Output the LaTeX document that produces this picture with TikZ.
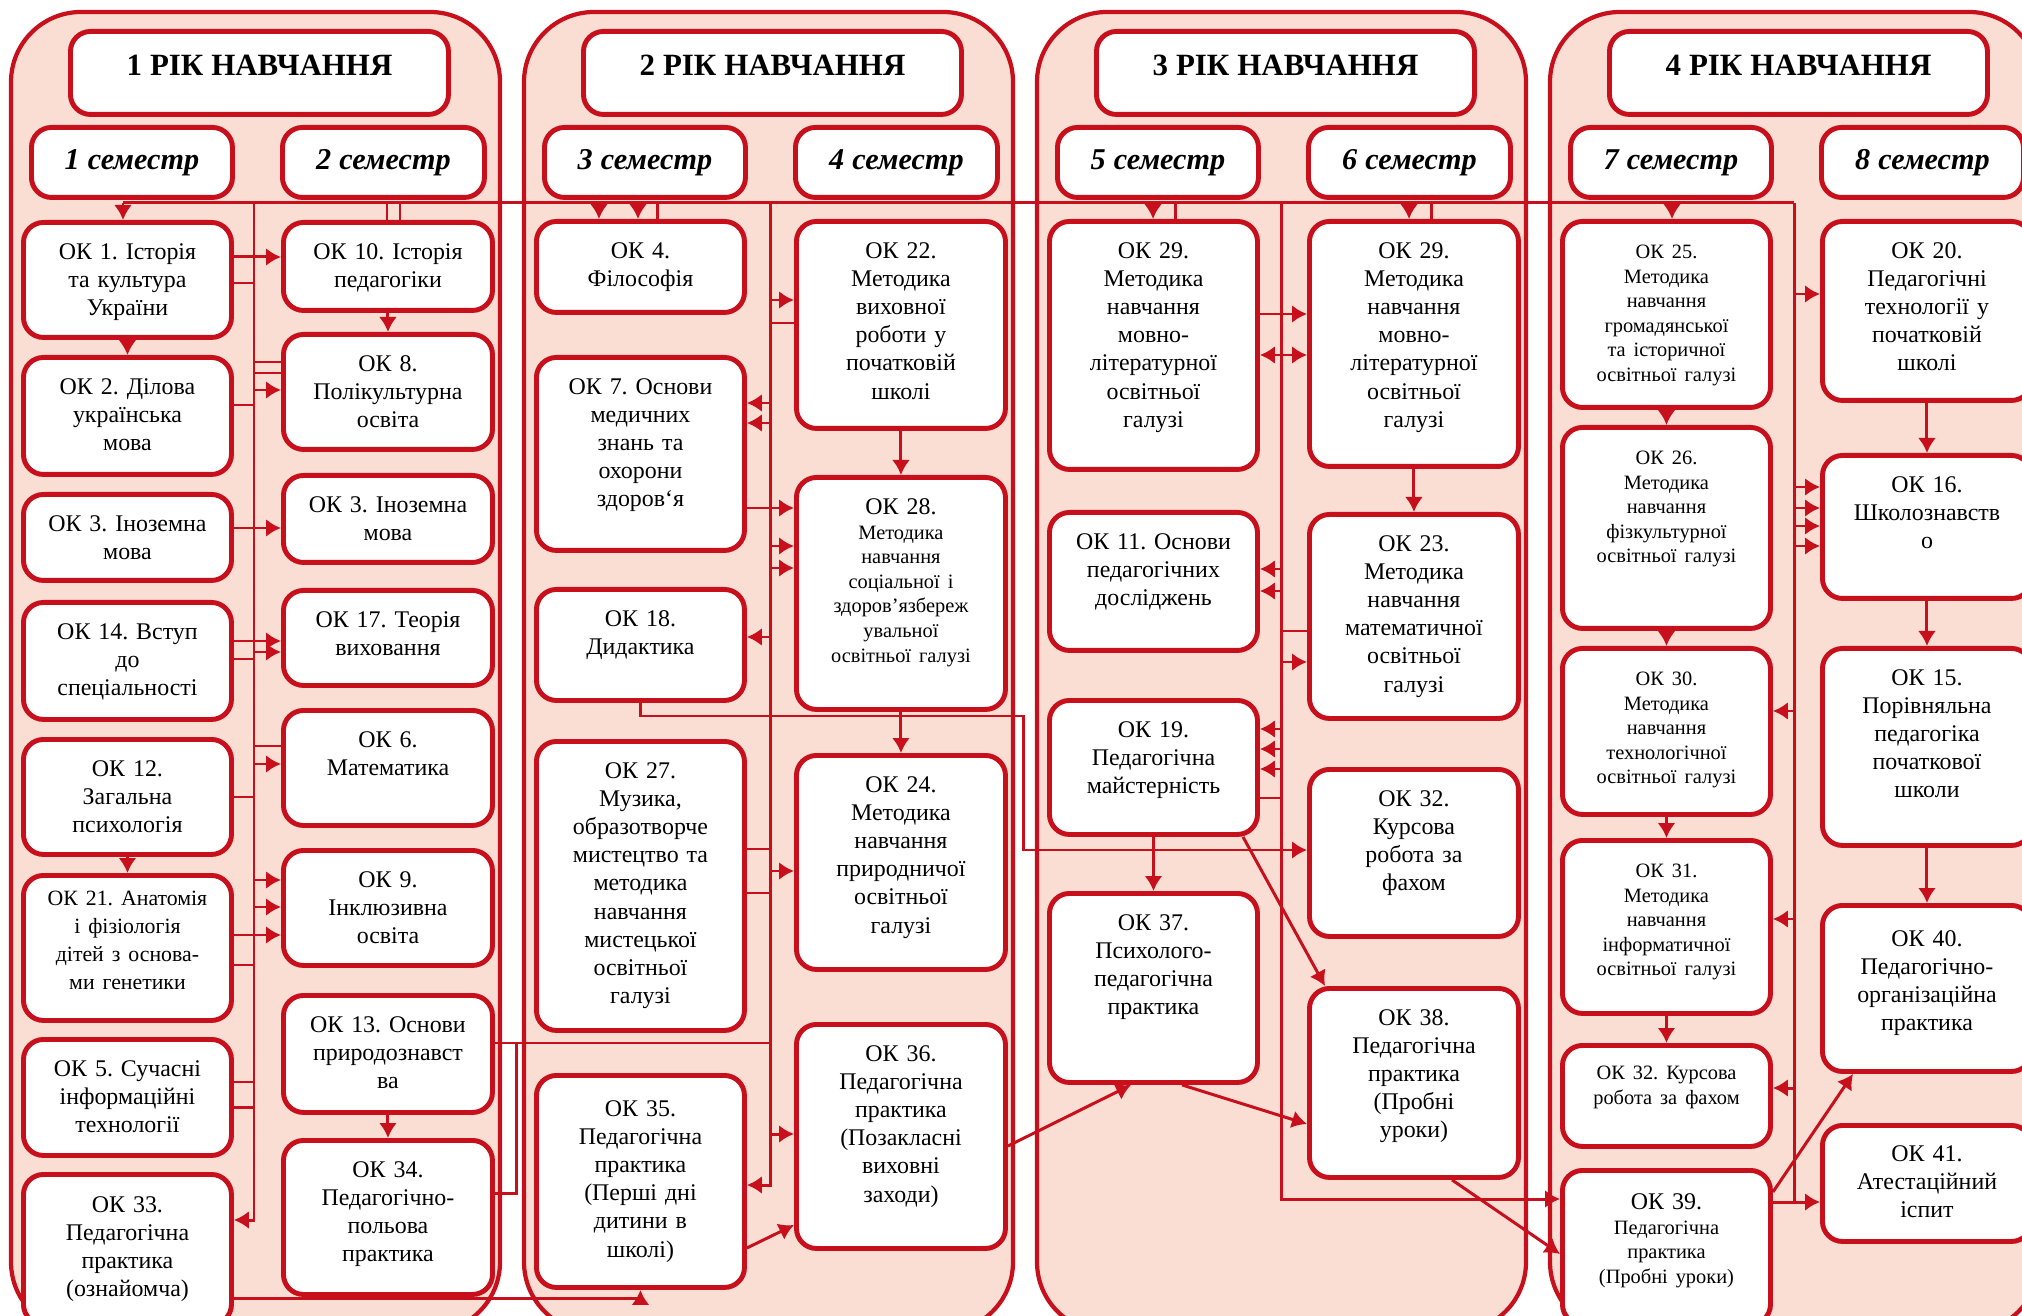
\documentclass[tikz,border=0pt]{standalone}
\usepackage{fontspec}
\setmainfont{Liberation Serif}
\usepackage{tikz}
\usetikzlibrary{arrows.meta}
\tikzset{>={Latex[length=1.5mm,width=1.8mm]}}
\definecolor{schred}{RGB}{200,16,28}
\definecolor{schpink}{RGB}{250,222,212}
\frenchspacing
\newcommand{\fnorm}{\fontsize{6.8}{8}\selectfont}
\newcommand{\fsmall}{\fontsize{5.8}{7}\selectfont}
\newcommand{\fhead}{\fontsize{8.8}{10}\selectfont\bfseries}
\newcommand{\fsem}{\fontsize{8.6}{10}\selectfont\bfseries\itshape}
\tikzstyle{panel} = [draw=schred, fill=schpink, line width=1.2, rounded corners=7mm]
\tikzstyle{course} = [draw=schred, fill=white, line width=1.4, rounded corners=2mm, inner sep=0, align=center, anchor=north west, font=\fnorm]
\tikzstyle{wire} = [schred, line width=0.85]
\tikzstyle{link} = [wire, ->]
\tikzstyle{both} = [wire, <->]
% box: [baseline offset]{name}{left}{top}{right}{bottom}{text}
\newcommand{\course}[7][37]{
	\pgfmathsetlengthmacro{\cwidth}{((#5)-(#3))*0.1mm}
	\pgfmathsetlengthmacro{\cheight}{(#1)*0.1mm}
	\pgfmathsetlengthmacro{\cdepth}{((#6)-(#4)-(#1))*0.1mm}
	\node[course, text width=\cwidth, text height=\cheight, text depth=\cdepth] (#2) at (#3,#4) {#7\par};
}

\begin{document}
\begin{tikzpicture}[x=0.1mm, y=-0.1mm]
		% Frame
		\useasboundingbox (0,0) rectangle (2022,1316);
		\clip (0,0) rectangle (2022,1316);
		\fill[white] (0,0) rectangle (2022,1316);
		
		% Coordinates
		\coordinate (topL) at (123,203);
		\coordinate (topR) at (1794,203);
		\coordinate (bus1) at (254,203);
		\coordinate (bus2) at (770,203);
		\coordinate (bus3) at (1281,203);
		\coordinate (bus4) at (1794,203);
		\coordinate (j13) at (516,1043);
		
		% Years and semesters
		\foreach \p in {0,...,3}
		{
			\pgfmathtruncatemacro{\yr}{\p+1}
			\pgfmathtruncatemacro{\sa}{2*\p+1}
			\pgfmathtruncatemacro{\sb}{2*\p+2}
			\draw[panel] (11+513*\p,12) rectangle (500+513*\p,1332);
			\course[44]{year\yr}{68+513*\p}{29}{446+513*\p}{112}{\fhead \yr{} РІК НАВЧАННЯ}
			\course[42]{sem\sa}{29+513*\p}{125}{230+513*\p}{195}{\fsem \sa{} семестр}
			\course[42]{sem\sb}{280+513*\p}{125}{482+513*\p}{195}{\fsem \sb{} семестр}
		}
		
		% First year
		\course{ok1}{21}{220}{229}{335}{ОК 1. Історія\\та культура\\України}
		\course{ok2}{21}{355}{229}{472}{ОК 2. Ділова\\українська\\мова}
		\course{ok3}{21}{492}{229}{578}{ОК 3. Іноземна\\мова}
		\course{ok14}{21}{600}{229}{717}{ОК 14. Вступ\\до\\спеціальності}
		\course{ok12}{21}{737}{229}{852}{ОК 12.\\Загальна\\психологія}
		\course[30]{ok21}{21}{873}{229}{1018}{\fontsize{6.2}{8}\selectfont ОК 21. Анатомія\\і фізіологія\\дітей з основа-\\ми генетики}
		\course{ok5}{21}{1037}{229}{1153}{ОК 5. Сучасні\\інформаційні\\технології}
		\course[38]{ok33}{21}{1172}{229}{1322}{ОК 33.\\Педагогічна\\практика\\(ознайомча)}
		\course{ok10}{281}{220}{490}{308}{ОК 10. Історія\\педагогіки}
		\course{ok8}{281}{332}{490}{447}{ОК 8.\\Полікультурна\\освіта}
		\course{ok3b}{281}{473}{490}{560}{ОК 3. Іноземна\\мова}
		\course{ok17}{281}{588}{490}{683}{ОК 17. Теорія\\виховання}
		\course{ok6}{281}{708}{490}{823}{ОК 6.\\Математика}
		\course{ok9}{281}{848}{490}{963}{ОК 9.\\Інклюзивна\\освіта}
		\course{ok13}{281}{993}{490}{1110}{ОК 13. Основи\\природознавст\\ва}
		\course{ok34}{281}{1138}{490}{1292}{ОК 34.\\Педагогічно-\\польова\\практика}
		
		% Second year
		\course{ok4}{534}{219}{742}{310}{ОК 4.\\Філософія}
		\course{ok7}{534}{355}{742}{548}{ОК 7. Основи\\медичних\\знань та\\охорони\\здоров`я}
		\course{ok18}{534}{587}{742}{698}{ОК 18.\\Дидактика}
		\course{ok27}{534}{739}{742}{1028}{ОК 27.\\Музика,\\образотворче\\мистецтво та\\методика\\навчання\\мистецької\\освітньої\\галузі}
		\course[41]{ok35}{534}{1073}{742}{1285}{ОК 35.\\Педагогічна\\практика\\(Перші дні\\дитини в\\школі)}
		\course{ok22}{794}{219}{1003}{426}{ОК 22.\\Методика\\виховної\\роботи у\\початковій\\школі}
		\course{ok28}{794}{475}{1003}{707}{ОК 28.\\\fsmall Методика\\навчання\\соціальної і\\здоров’язбереж\\увальної\\освітньої галузі}
		\course{ok24}{794}{753}{1003}{967}{ОК 24.\\Методика\\навчання\\природничої\\освітньої\\галузі}
		\course{ok36}{794}{1022}{1003}{1246}{ОК 36.\\Педагогічна\\практика\\(Позакласні\\виховні\\заходи)}
		
		% Third year
		\course{ok29a}{1047}{219}{1255}{467}{ОК 29.\\Методика\\навчання\\мовно-\\літературної\\освітньої\\галузі}
		\course{ok11}{1047}{510}{1255}{648}{ОК 11. Основи\\педагогічних\\досліджень}
		\course{ok19}{1047}{698}{1255}{832}{ОК 19.\\Педагогічна\\майстерність}
		\course{ok37}{1047}{891}{1255}{1080}{ОК 37.\\Психолого-\\педагогічна\\практика}
		\course{ok29b}{1307}{219}{1516}{464}{ОК 29.\\Методика\\навчання\\мовно-\\літературної\\освітньої\\галузі}
		\course{ok23}{1307}{512}{1516}{716}{ОК 23.\\Методика\\навчання\\математичної\\освітньої\\галузі}
		\course{ok32a}{1307}{767}{1516}{934}{ОК 32.\\Курсова\\робота за\\фахом}
		\course{ok38}{1307}{986}{1516}{1175}{ОК 38.\\Педагогічна\\практика\\(Пробні\\уроки)}
		
		% Fourth year
		\course{ok25}{1560}{219}{1768}{405}{\fsmall ОК 25.\\Методика\\навчання\\громадянської\\та історичної\\освітньої галузі}
		\course{ok26}{1560}{425}{1768}{626}{\fsmall ОК 26.\\Методика\\навчання\\фізкультурної\\освітньої галузі}
		\course{ok30}{1560}{646}{1768}{812}{\fsmall ОК 30.\\Методика\\навчання\\технологічної\\освітньої галузі}
		\course{ok31}{1560}{838}{1768}{1011}{\fsmall ОК 31.\\Методика\\навчання\\інформатичної\\освітньої галузі}
		\course[34]{ok32b}{1560}{1043}{1768}{1144}{\fsmall ОК 32. Курсова\\робота за фахом}
		\course[39]{ok39}{1560}{1168}{1768}{1322}{ОК 39.\\\fsmall Педагогічна\\практика\\(Пробні уроки)}
		\course{ok20}{1820}{219}{2029}{398}{ОК 20.\\Педагогічні\\технології у\\початковій\\школі}
		\course{ok16}{1820}{453}{2029}{596}{ОК 16.\\Школознавств\\о}
		\course{ok15}{1820}{646}{2029}{843}{ОК 15.\\Порівняльна\\педагогіка\\початкової\\школи}
		\course[41]{ok40}{1820}{903}{2029}{1069}{ОК 40.\\Педагогічно-\\організаційна\\практика}
		\course[36]{ok41}{1820}{1123}{2029}{1239}{ОК 41.\\Атестаційний\\іспит}
		
		% Top line and buses
		\draw[wire] (topL) -- (topR);
		\draw[link] (topL) -- (topL |- ok1.north);
		\draw[link] (bus1) |- (ok33.east |- 0,1220);
		\draw[link] (bus2) |- (ok35.east |- 0,1185);
		\draw[link] (bus3) |- (ok39.west |- 0,1199);
		\draw[wire] (bus4) -- (bus4 |- 0,1202);
		\foreach \x/\n in {599/ok4, 638/ok4, 1153/ok29a, 1409/ok29b, 1672/ok25}
			\draw[link] (\x,203) -- (\n.north -| \x,0);
		\foreach \x/\n in {387/ok10, 400/ok10, 657/ok4, 1175/ok29a, 1431/ok29b}
			\draw[wire] (\x,203) -- (\n.north -| \x,0);
		
		% First year links
		\draw[link] (ok1) -- (ok2);
		\draw[link] (ok12) -- (ok21);
		\draw[link] (ok10) -- (ok8);
		\draw[link] (ok13) -- (ok34);
		\foreach \y/\a/\b in {257/ok1/ok10, 528/ok3/ok3b, 641/ok14/ok17, 935/ok21/ok9}
			\draw[link] (\a.east |- 0,\y) -- (\b.west |- 0,\y);
		\foreach \y/\n in {283/ok1, 405/ok2, 659/ok14, 797/ok12, 965/ok21, 1082/ok5, 1107/ok5}
			\draw[wire] (\n.east |- 0,\y) -- (bus1 |- 0,\y);
		\foreach \y/\n in {362/ok8, 373/ok8, 746/ok6}
			\draw[wire] (bus1 |- 0,\y) -- (\n.west |- 0,\y);
		\foreach \y/\n in {390/ok8, 652/ok17, 764/ok6, 880/ok9, 907/ok9}
			\draw[link] (bus1 |- 0,\y) -- (\n.west |- 0,\y);
		\draw[wire] (ok13.east |- j13) -- (bus2 |- j13);
		\draw[wire] (ok34.east |- 0,1193) -| (j13);
		\draw[link] (ok33.east |- 0,1298) -| (ok35.south);
		
		% Second year links
		\draw[link] (ok22) -- (ok28);
		\draw[link] (ok28) -- (ok24);
		\draw[link] (ok7.east |- 0,508) -- (ok28.west |- 0,508);
		\foreach \y/\n in {300/ok22, 546/ok28, 568/ok28, 871/ok24, 1134/ok36}
			\draw[link] (bus2 |- 0,\y) -- (\n.west |- 0,\y);
		\foreach \y/\n in {403/ok7, 423/ok7, 637/ok18}
			\draw[link] (bus2 |- 0,\y) -- (\n.east |- 0,\y);
		\draw[wire] (ok22.west |- 0,323) -- (bus2 |- 0,323);
		\foreach \y/\n in {849/ok27, 893/ok27}
			\draw[wire] (\n.east |- 0,\y) -- (bus2 |- 0,\y);
		\draw[link] (ok18.south) -- (ok18.south |- 0,716) -- (1023,716) -- (1023,850) -- (ok32a.west |- 0,850);
		\draw[link] (ok35.east |- 0,1248) -- (ok36.west |- 0,1225);
		\draw[link] (ok36.east |- 0,1146) -- (ok37.south -| 1131,0);
		
		% Third year links
		\draw[link] (ok29b) -- (ok23);
		\draw[link] (ok19) -- (ok37);
		\draw[link] (ok29a.east |- 0,314) -- (ok29b.west |- 0,314);
		\draw[both] (ok29a.east |- 0,355) -- (ok29b.west |- 0,355);
		\foreach \y/\n in {569/ok11, 591/ok11, 729/ok19, 749/ok19, 769/ok19}
			\draw[link] (bus3 |- 0,\y) -- (\n.east |- 0,\y);
		\draw[wire] (ok19.east |- 0,798) -- (bus3 |- 0,798);
		\draw[wire] (ok23.west |- 0,631) -- (bus3 |- 0,631);
		\draw[link] (bus3 |- 0,662) -- (ok23.west |- 0,662);
		\draw[link] (ok19.south -| 1243,0) -- (ok38.north -| 1325,0);
		\draw[link] (ok37.south -| 1182,0) -- (ok38.west |- 0,1124);
		\draw[link] (ok38.south -| 1452,0) -- (ok39.west |- 0,1254);
		
		% Fourth year links
		\draw[link] (ok25) -- (ok26);
		\draw[link] (ok26) -- (ok30);
		\draw[link] (ok30) -- (ok31);
		\draw[link] (ok31) -- (ok32b);
		\draw[link] (ok20) -- (ok16);
		\draw[link] (ok16) -- (ok15);
		\draw[link] (ok15) -- (ok40);
		\foreach \y/\n in {294/ok20, 487/ok16, 508/ok16, 526/ok16, 546/ok16}
			\draw[link] (bus4 |- 0,\y) -- (\n.west |- 0,\y);
		\foreach \y/\n in {711/ok30, 919/ok31, 1088/ok32b}
			\draw[link] (bus4 |- 0,\y) -- (\n.east |- 0,\y);
		\draw[link] (ok39.east |- 0,1202) -- (ok41.west |- 0,1202);
		\draw[link] (ok39.east |- 0,1192) -- (ok40.south -| 1853,0);
	\end{tikzpicture}
\end{document}
